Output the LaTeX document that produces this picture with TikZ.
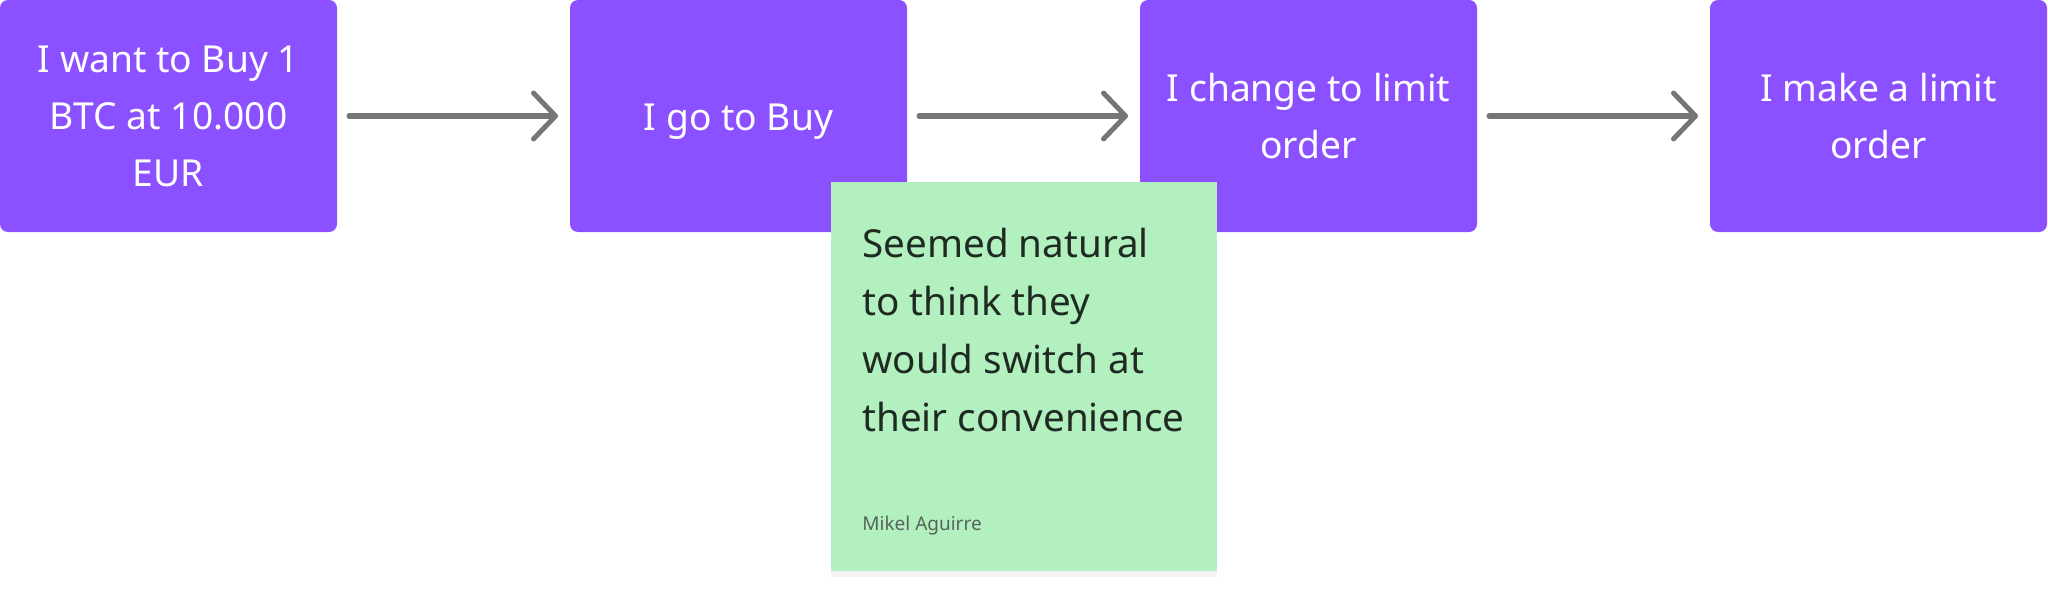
\documentclass[tikz,border=0pt]{standalone}
\usepackage{fontspec}
\setmainfont{Noto Sans}
\usetikzlibrary{arrows.meta,positioning,shadows}
\definecolor{Purple}{HTML}{8B50FF}
\definecolor{Sticky}{HTML}{B3F0BF}
\definecolor{Ink}{HTML}{1F2B22}
\definecolor{Author}{HTML}{56655A}
\definecolor{Arrow}{HTML}{767676}

\begin{document}
\begin{tikzpicture}[x=0.5pt,y=-0.5pt,node distance=116.5pt,
  stepbox/.style={fill=Purple,rounded corners=4pt,minimum width=168.5pt,minimum height=116pt,align=center,text=white,font=\fontsize{18.6}{28.5}\selectfont,inner sep=0pt,outer sep=0pt},
  flow/.style={-{Straight Barb[length=11pt,width=23pt,round]},line width=2.5pt,line cap=round,Arrow,shorten <=6pt,shorten >=6pt},
  sticky/.style={fill=Sticky,minimum width=193pt,minimum height=194.5pt,inner sep=0pt,outer sep=0pt,drop shadow={shadow xshift=0pt,shadow yshift=-3pt,opacity=0.08}},
  quote/.style={text=Ink,align=left,inner sep=0pt,font=\fontsize{19.3}{29}\selectfont},
  author/.style={text=Author,inner sep=0pt,font=\fontsize{9.5}{12}\selectfont}]
  \useasboundingbox (0,0) rectangle (2048,599);
  % steps of the flow
  \node[stepbox,anchor=north west] (want) at (0,0) {I want to Buy 1\\BTC at 10.000\\EUR};
  \node[stepbox,right=of want] (buy) {\raisebox{-2.6pt}[\height][\depth]{I go to Buy}};
  \node[stepbox,right=of buy] (change) {I change to limit\\order};
  \node[stepbox,right=of change] (make) {I make a limit\\order};
  \draw[flow] (want) -- (buy);
  \draw[flow] (buy) -- (change);
  \draw[flow] (change) -- (make);
  % sticky note
  \node[sticky,anchor=north west] (note) at (831,182) {};
  \node[quote,anchor=north west] (comment) at ([xshift=15.5pt,yshift=-23pt]note.north west) {Seemed natural\\to think they\\would switch at\\their convenience};
  \node[author,anchor=base west] (name) at (862,530) {Mikel Aguirre};
\end{tikzpicture}
\end{document}
